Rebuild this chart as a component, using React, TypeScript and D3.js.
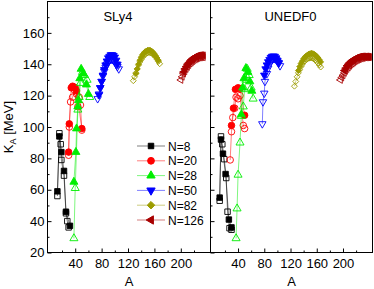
import React, { useRef, useEffect } from "react";
import * as d3 from "d3";

const panelNames = ["SLy4", "UNEDF0"];
const chainLabels = ["N=8", "N=20", "N=28", "N=50", "N=82", "N=126"];
const chainColors = ["#000000", "#ff0000", "#00ee00", "#0000ff", "#9c9c00", "#a80000"];
const aTicks = [40, 80, 120, 160, 200];
const aMinor = [20, 60, 100, 140, 180, 220];
const kTicks = [20, 40, 60, 80, 100, 120, 140, 160];
const kMinor = [30, 50, 70, 90, 110, 130, 150, 170];

// SLy4 chains, [A, K_A]
const sly4N8Filled = [[13, 59], [16, 94], [19, 84], [23, 72], [26, 46], [32, 37]];
const sly4N8Open = [[13, 56], [16, 96], [18, 89], [19, 79], [23, 69], [26, 45], [28, 40], [30, 36]];
const sly4N20Filled = [[30, 84], [31, 102], [34, 125], [36, 126], [38, 125.5], [40, 125], [42, 123], [50, 99]];
const sly4N20Open = [[30, 82], [31, 100], [33, 116], [36, 119], [39, 123.5], [42, 121], [44, 113], [46, 119], [48, 114], [50, 98]];
const sly4N28Filled = [[38, 65], [41, 84], [42, 99], [44, 113], [45, 117], [47, 131], [49, 137], [52, 134], [57, 127], [60, 121]];
const sly4N28Open = [[38, 29], [40, 61], [44, 111], [46, 119], [48, 128], [51, 135], [54, 133], [58, 130], [62, 119]];
const sly4N50Filled = [[76, 120.5], [78, 125], [80, 129], [82, 133], [84, 136.5], [86, 139.5], [88, 142], [90, 144], [92, 145], [94, 146], [96, 146], [98, 145.5], [100, 144.5], [102, 142.5], [104, 140]];
const sly4N50Open = [[74, 118], [76, 121], [78, 125], [80, 129], [82, 132.5], [84, 135.5], [86, 138], [88, 140], [90, 141.5], [92, 142.5], [94, 143], [96, 143], [98, 142.5], [100, 141.5], [102, 140], [104, 138.5], [106, 137]];
const sly4N82Filled = [[132, 134], [134, 137], [136, 140], [138, 142.5], [140, 144.5], [142, 146], [144, 147], [146, 148], [148, 148.5], [150, 149], [152, 149], [154, 148.8], [156, 148.3], [158, 147.5], [160, 146.5], [162, 145.3], [164, 144], [166, 142.5]];
const sly4N82Open = [[128, 129.5], [130, 132], [132, 134.5], [134, 137], [136, 139.5], [138, 141.5], [140, 143], [142, 144.5], [144, 145.5], [146, 146.3], [148, 147], [150, 147.3], [152, 147.5], [154, 147.3], [156, 147], [158, 146.3], [160, 145.5], [162, 144.5], [164, 143.2], [166, 141.8], [168, 140.3]];
const sly4N126Filled = [[204, 135], [206, 137], [208, 138.5], [210, 140], [212, 141], [214, 142], [216, 143], [218, 143.7], [220, 144.3], [222, 144.8], [224, 145.2], [226, 145.5], [228, 145.7], [230, 145.8], [232, 145.8], [234, 145.7]];
const sly4N126Open = [[200, 130], [202, 132], [204, 134], [206, 135.5], [208, 137], [210, 138.3], [212, 139.5], [214, 140.5], [216, 141.3], [218, 142], [220, 142.7], [222, 143.2], [224, 143.6], [226, 144], [228, 144.2], [230, 144.4], [232, 144.5], [234, 144.5]];

// UNEDF0 chains
const unedfN8Filled = [[12, 55], [14, 92], [17, 83], [21, 70], [26, 41], [30, 36]];
const unedfN8Open = [[12, 53], [14, 94], [16, 89], [19, 79.5], [22, 67.5], [24, 46], [27, 35.5], [30, 34.5]];
const unedfN20Filled = [[30, 101], [33, 112], [36, 124], [40, 125], [43, 124.5], [50, 107.5]];
const unedfN20Open = [[28, 79], [30, 97], [32, 106], [35, 112], [37, 119], [40, 118], [43, 120], [48, 101], [50, 99]];
const unedfN28Filled = [[45, 108], [47, 125], [49, 131], [52, 137.5], [55, 135], [58, 129], [61, 123]];
const unedfN28Open = [[37, 29], [38.5, 48], [40, 69.5], [43, 90], [45, 107], [48, 113], [50, 124], [52, 130], [54, 137], [57, 133], [60, 125], [63, 118]];
const unedfN50Filled = [[80, 133], [82, 137], [84, 139.5], [86, 141.5], [88, 143], [90, 144.3], [92, 145], [94, 145.2], [96, 145], [98, 144], [100, 142.5], [102, 141]];
const unedfN50Open = [[77, 102], [78, 116], [80, 121.5], [81, 129], [84, 134], [86, 137.5], [88, 140], [90, 142], [92, 143], [94, 143.5], [96, 143.5], [98, 143], [100, 142], [102, 140.5], [104, 139]];
const unedfN82Filled = [[132, 136], [134, 138.5], [136, 140.5], [138, 142], [140, 143.5], [142, 144.5], [144, 145.3], [146, 146], [148, 146.5], [150, 146.8], [152, 147], [154, 146.8], [156, 146.4], [158, 145.8], [160, 145], [162, 144], [164, 142.8], [166, 141.5]];
const unedfN82Open = [[126, 126], [128, 129], [130, 132], [132, 134.5], [134, 136.5], [136, 138.5], [138, 140], [140, 141.3], [142, 142.3], [144, 143], [146, 143.5], [148, 143.8], [150, 144], [152, 144], [154, 143.8], [156, 143.3], [158, 142.6], [160, 141.7], [162, 140.7], [164, 139.5], [166, 138.2]];
const unedfN126Filled = [[202, 136], [204, 137.5], [206, 139], [208, 140], [210, 141], [212, 141.8], [214, 142.5], [216, 143], [218, 143.5], [220, 144], [222, 144.3], [224, 144.6], [226, 144.8], [228, 145], [230, 145], [232, 145], [234, 145], [236, 145], [238, 144.9], [240, 144.8]];
const unedfN126Open = [[196, 130], [198, 131.5], [200, 133], [202, 134.5], [204, 135.8], [206, 137], [208, 138], [210, 139], [212, 139.8], [214, 140.5], [216, 141.2], [218, 141.8], [220, 142.3], [222, 142.8], [224, 143.2], [226, 143.5], [228, 143.8], [230, 144], [232, 144.2], [234, 144.3], [236, 144.4], [238, 144.4], [240, 144.4]];

const chains = [
  [
    { filled: sly4N8Filled, open: sly4N8Open },
    { filled: sly4N20Filled, open: sly4N20Open },
    { filled: sly4N28Filled, open: sly4N28Open },
    { filled: sly4N50Filled, open: sly4N50Open },
    { filled: sly4N82Filled, open: sly4N82Open },
    { filled: sly4N126Filled, open: sly4N126Open },
  ],
  [
    { filled: unedfN8Filled, open: unedfN8Open },
    { filled: unedfN20Filled, open: unedfN20Open },
    { filled: unedfN28Filled, open: unedfN28Open },
    { filled: unedfN50Filled, open: unedfN50Open },
    { filled: unedfN82Filled, open: unedfN82Open },
    { filled: unedfN126Filled, open: unedfN126Open },
  ],
];

const svgWidth = 374;
const svgHeight = 289;
const plotTop = 1.5;
const plotBottom = 252.5;
const panelEdges = [47.5, 210.5, 372.5];
const titleX = [118, 290.5];
const font = "Arial, 'Liberation Sans', sans-serif";

const symbols = [d3.symbolSquare, d3.symbolCircle, d3.symbolTriangle, d3.symbolTriangle, d3.symbolDiamond2, d3.symbolTriangle];
const rotations = [0, 0, 0, 180, 0, -90];
// plot sizes (dense chains get smaller marks), legend sizes
const symbolSizes = [30, 34, 28, 24, 22, 20];
const legendSizes = [30, 36, 30, 30, 36, 30];

const App = () => {
  const svgRef = useRef<SVGSVGElement>(null);

  useEffect(() => {
    const svg = d3.select(svgRef.current);
    svg.selectAll("*").remove();

    const y = d3.scaleLinear().domain([20, 180]).range([plotBottom, plotTop]);

    panelNames.forEach((name, p) => {
      const x = d3.scaleLinear().domain([-2, 245]).range([panelEdges[p], panelEdges[p + 1]]);
      const g = svg.append("g");
      const line = d3.line<number[]>().x(d => x(d[0])).y(d => y(d[1]));

      // data: open first, filled on top
      chains[p].forEach((chain, c) => {
        const color = chainColors[c];
        [chain.open, chain.filled].forEach((pts, k) => {
          g.append("path")
            .datum(pts)
            .attr("d", line)
            .attr("fill", "none")
            .attr("stroke", color)
            .attr("stroke-opacity", 0.5)
            .attr("stroke-width", 1);
          g.selectAll(null)
            .data(pts)
            .enter()
            .append("path")
            .attr("d", d3.symbol(symbols[c], symbolSizes[c]))
            .attr("transform", d => `translate(${x(d[0])},${y(d[1])}) rotate(${rotations[c]})`)
            .attr("fill", k === 1 ? color : "none")
            .attr("stroke", color)
            .attr("stroke-width", 0.9);
        });
      });

      // x axis
      const xAxis = g.append("g")
        .attr("transform", `translate(0,${plotBottom})`)
        .call(d3.axisBottom(x).tickValues(aTicks).tickSizeInner(-4).tickSizeOuter(0).tickPadding(6));
      const xMinor = g.append("g")
        .attr("transform", `translate(0,${plotBottom})`)
        .call(d3.axisBottom(x).tickValues(aMinor).tickSizeInner(-2).tickSizeOuter(0).tickFormat(() => ""));

      // y axis
      const yAxis = g.append("g")
        .attr("transform", `translate(${panelEdges[p]},0)`)
        .call(d3.axisLeft(y).tickValues(kTicks).tickSizeInner(-4).tickSizeOuter(0).tickPadding(3)
          .tickFormat(p === 0 ? d3.format("d") : () => ""));
      const yMinor = g.append("g")
        .attr("transform", `translate(${panelEdges[p]},0)`)
        .call(d3.axisLeft(y).tickValues(kMinor).tickSizeInner(-2).tickSizeOuter(0).tickFormat(() => ""));

      [xAxis, xMinor, yAxis, yMinor].forEach(a => {
        a.select(".domain").remove();
        a.selectAll("line").attr("stroke", "#000");
        a.selectAll("text").attr("font-size", 13).attr("font-family", font).attr("fill", "#000");
      });

      g.append("text")
        .attr("x", titleX[p])
        .attr("y", 21)
        .attr("text-anchor", "middle")
        .attr("font-size", 13)
        .attr("font-family", font)
        .text(name);

      g.append("text")
        .attr("x", (panelEdges[p] + panelEdges[p + 1]) / 2)
        .attr("y", 286)
        .attr("text-anchor", "middle")
        .attr("font-size", 13)
        .attr("font-family", font)
        .text("A");
    });

    // frame
    svg.append("rect")
      .attr("x", panelEdges[0])
      .attr("y", plotTop)
      .attr("width", panelEdges[2] - panelEdges[0])
      .attr("height", plotBottom - plotTop)
      .attr("fill", "none")
      .attr("stroke", "#000");
    svg.append("line")
      .attr("x1", panelEdges[1]).attr("x2", panelEdges[1])
      .attr("y1", plotTop).attr("y2", plotBottom)
      .attr("stroke", "#000");

    // y label
    const yLabel = svg.append("text")
      .attr("transform", "translate(13,127) rotate(-90)")
      .attr("text-anchor", "middle")
      .attr("font-size", 13)
      .attr("font-family", font);
    yLabel.append("tspan").text("K");
    yLabel.append("tspan").attr("font-size", 9).attr("dy", 3).text("A");
    yLabel.append("tspan").attr("dy", -3).text(" [MeV]");

    // legend
    const legend = svg.append("g");
    chainLabels.forEach((label, c) => {
      const ly = 146 + c * 14.8;
      const color = chainColors[c];
      legend.append("line")
        .attr("x1", 137).attr("x2", 165)
        .attr("y1", ly).attr("y2", ly)
        .attr("stroke", color)
        .attr("stroke-opacity", 0.5);
      legend.append("path")
        .attr("d", d3.symbol(symbols[c], legendSizes[c]))
        .attr("transform", `translate(151,${ly}) rotate(${rotations[c]})`)
        .attr("fill", color)
        .attr("stroke", color);
      legend.append("text")
        .attr("x", 168)
        .attr("y", ly + 4.5)
        .attr("font-size", 12)
        .attr("font-family", font)
        .text(label);
    });
  }, []);

  return (
    <div>
      <svg
        ref={svgRef}
        width={svgWidth}
        height={svgHeight}
        style={{ position: "absolute", left: 0, top: 0, background: "#fff" }}
      ></svg>
    </div>
  );
};

export default App;
